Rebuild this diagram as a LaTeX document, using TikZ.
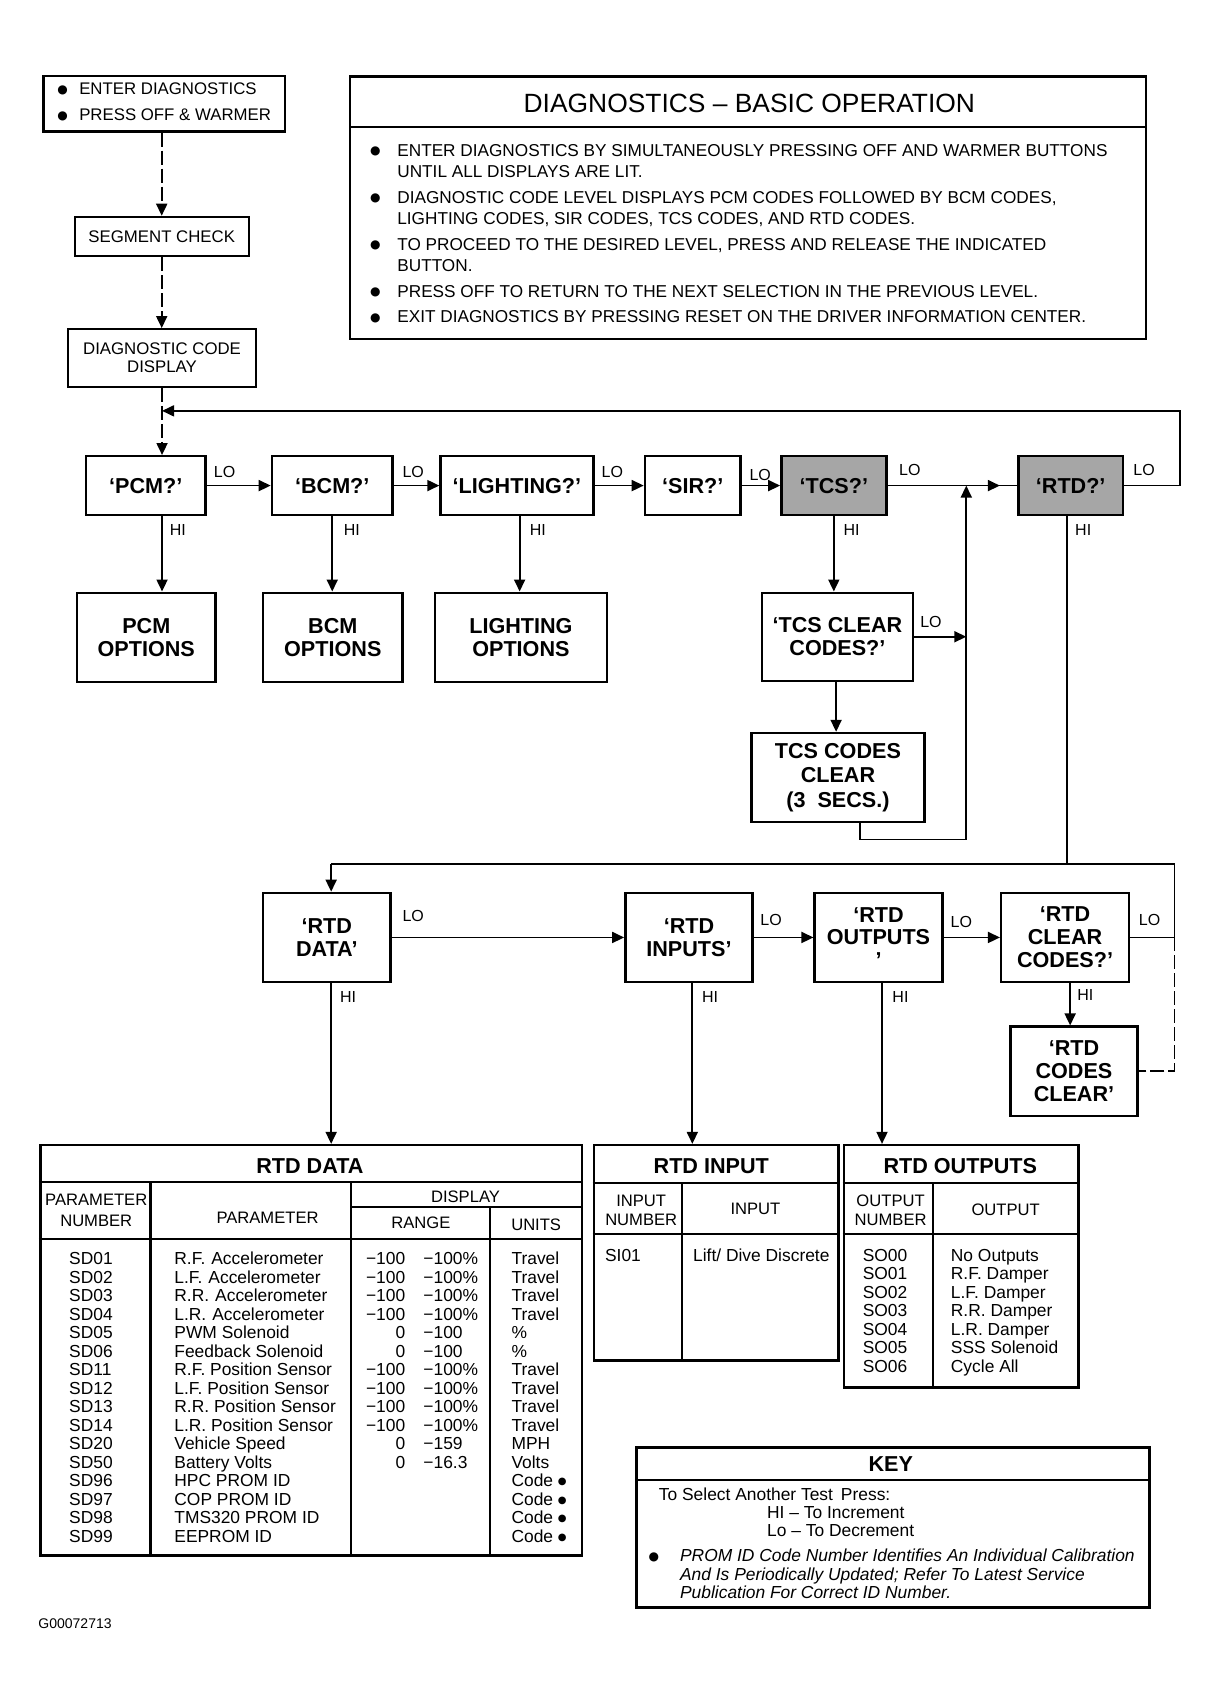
\documentclass[tikz,border=0pt]{standalone}
\usepackage{fontspec}
\setmainfont{Liberation Sans}
\newfontfamily\dejavu{DejaVu Sans}
\newcommand\bul{\raisebox{0.7pt}{\dejavu\fontsize{6}{6}\selectfont ●}}
\newcommand\sbul{\raisebox{0.9pt}{\dejavu\fontsize{5}{5}\selectfont ●}}
\usetikzlibrary{arrows.meta,calc}
\begin{document}
\begin{tikzpicture}[x=0.54375pt,y=-0.54375pt,
  wh/.style 2 args={minimum width=#1*0.54375pt,minimum height=#2*0.54375pt},
  flow/.style={draw,line width=1.2pt,inner sep=0pt,align=center,font=\fontsize{10.8}{11.4}\selectfont\bfseries},
  sbox/.style={draw,line width=1.1pt,inner sep=0pt,align=center,font=\fontsize{8.4}{9.8}\selectfont},
  shaded/.style={fill=black!35},
  con/.style={line width=0.9pt},
  arr/.style={con,-{Triangle[length=6pt,width=5.5pt]}},
  dsh/.style={con,dash pattern=on 7pt off 2pt},
  darr/.style={dsh,-{Triangle[length=6pt,width=5.5pt]}},
  lbl/.style={font=\fontsize{8}{9}\selectfont,inner sep=0pt},
  tab/.style={draw,line width=1.3pt,inner sep=0pt},
  tl/.style={line width=1.1pt},
  ttitle/.style={font=\fontsize{10.8}{11}\selectfont\bfseries,inner sep=0pt},
  thead/.style={font=\fontsize{8.3}{10.4}\selectfont,inner sep=0pt,align=center},
  tdat/.style={font=\fontsize{8.7}{9.24}\selectfont,inner sep=0pt,anchor=base west},
  tdatr/.style={font=\fontsize{8.7}{9.24}\selectfont,inner sep=0pt,anchor=base east},
]
\useasboundingbox (0,0) rectangle (1120,1565);

% ---------- top left chain ----------
\node[sbox,wh={222}{51}] (enter) at (151,95.5) {\begin{tabular}{@{}l@{}}\makebox[10.9pt][l]{\bul}ENTER DIAGNOSTICS\\[3.2pt]\makebox[10.9pt][l]{\bul}PRESS OFF \& WARMER\end{tabular}};
\node[sbox,wh={160}{36}] (seg) at (148.7,217.4) {SEGMENT CHECK};
\node[sbox,wh={173}{53},font=\fontsize{8.4}{8.9}\selectfont] (diag) at (149,329.2) {DIAGNOSTIC CODE\\DISPLAY};

% ---------- basic operation box ----------
\node[draw,line width=1.2pt,wh={731.7}{241.5},inner sep=0pt] (bop) at (687.9,191.2) {};
\draw[line width=1.1pt] (bop.west |- 0,117) -- (bop.east |- 0,117);
\node[inner sep=0pt,font=\fontsize{13.2}{14}\selectfont] (boptitle) at (689,95) {DIAGNOSTICS -- BASIC OPERATION};
\node[inner sep=0pt,anchor=base west,font=\fontsize{8.6}{10.7}\selectfont] (boptext) at (340,143.5) {%
\begin{tabular}[t]{@{}p{13.6pt}@{}l@{}}
\bul & ENTER DIAGNOSTICS BY SIMULTANEOUSLY PRESSING OFF AND WARMER BUTTONS\\
 & UNTIL ALL DISPLAYS ARE LIT.\\[2.1pt]
\bul & DIAGNOSTIC CODE LEVEL DISPLAYS PCM CODES FOLLOWED BY BCM CODES,\\
 & LIGHTING CODES, SIR CODES, TCS CODES, AND RTD CODES.\\[2.1pt]
\bul & TO PROCEED TO THE DESIRED LEVEL, PRESS AND RELEASE THE INDICATED\\
 & BUTTON.\\[2.1pt]
\bul & PRESS OFF TO RETURN TO THE NEXT SELECTION IN THE PREVIOUS LEVEL.\\[2.1pt]
\bul & EXIT DIAGNOSTICS BY PRESSING RESET ON THE DRIVER INFORMATION CENTER.
\end{tabular}};

% ---------- row 1 ----------
\node[flow,wh={110}{54}] (pcm) at (134,446.5) {‘PCM?’};
\node[flow,wh={111}{54}] (bcm) at (305.5,446.5) {‘BCM?’};
\node[flow,wh={140.5}{54}] (light) at (475.3,446.5) {‘LIGHTING?’};
\node[flow,wh={88}{54}] (sir) at (637,446.5) {‘SIR?’};
\node[flow,shaded,wh={96.5}{54}] (tcs) at (766.7,446.5) {‘TCS?’};
\node[flow,shaded,wh={96}{54}] (rtd) at (984.5,446.5) {‘RTD?’};

% ---------- row 2 ----------
\node[flow,wh={127}{82}] (pcmopt) at (134.5,586) {PCM\\OPTIONS};
\node[flow,wh={128}{82}] (bcmopt) at (306,586) {BCM\\OPTIONS};
\node[flow,wh={158}{82}] (lightopt) at (479,586) {LIGHTING\\OPTIONS};
\node[flow,wh={139}{81}] (tcsclr) at (770,585.5) {‘TCS CLEAR\\CODES?’};
\node[flow,wh={159}{82},font=\fontsize{10.8}{12.2}\selectfont\bfseries] (tcscodes) at (770.5,715) {TCS CODES\\CLEAR\\(3 \ SECS.)};

% ---------- row 3 ----------
\node[flow,wh={117}{82}] (rtddata) at (300.5,862) {‘RTD\\DATA’};
\node[flow,wh={117}{82}] (rtdin) at (633.5,862) {‘RTD\\INPUTS’};
\node[flow,wh={117.5}{82}] (rtdout) at (807.8,862) {‘RTD\\OUTPUTS\\’};
\node[flow,wh={117.5}{82}] (rtdclr) at (979.3,862) {‘RTD\\CLEAR\\CODES?’};
\node[flow,wh={117}{82}] (rtdcc) at (987.5,985) {‘RTD\\CODES\\CLEAR’};

% ---------- connectors: top-left ----------
\draw[darr] (enter.south -| seg.north) -- (seg.north);
\draw[darr] (seg.south) -- (seg.south |- diag.north);
\draw[darr] (diag.south) -- (diag.south |- pcm.north);
\coordinate (retR) at (1084.7,377.8);
\draw[arr] (rtd.east) -| (retR) -- (diag.south |- retR);

% row 1 LO arrows
\draw[arr] (pcm.east) -- (bcm.west);
\draw[arr] (bcm.east) -- (light.west);
\draw[arr] (light.east) -- (sir.west);
\draw[arr] (sir.east) -- (tcs.west);
\draw[con] (tcs.east) -- (rtd.west);
\draw[arr] (tcs.east) -- ($(rtd.west)+(-16,0)$);

% row 1 HI arrows
\draw[arr] (diag.south |- pcm.south) -- (diag.south |- pcmopt.north);
\draw[arr] (bcm.south) -- (bcm.south |- bcmopt.north);
\draw[arr] ($(light.south)+(2.5,0)$) -- ($(light.south |- lightopt.north)+(2.5,0)$);
\draw[arr] (tcs.south) -- (tcs.south |- tcsclr.north);
\draw[arr] ($(tcsclr.south)+(-1.2,0)$) -- ($(tcsclr.south |- tcscodes.north)+(-1.2,0)$);

% TCS return path
\coordinate (vr) at (888.5,772);
\draw[arr] ($(tcscodes.south)+(20.5,0)$) |- (vr) -- (vr |- tcs.east);
\draw[arr] (tcsclr.east) -- (tcsclr.east -| vr);

% RTD? HI path
\coordinate (hl) at (304.5,794.5);
\coordinate (hr) at (1080,794.5);
\draw[con] ($(rtd.south)+(-3.5,0)$) -- ($(rtd.south |- hr)+(-3.5,0)$);
\draw[con] (hr) -- (hl);
\draw[arr] (hl) -- (hl |- rtddata.north);
\draw[con] (hr) -- (hr |- rtdclr.east);
\draw[con] (rtdclr.east) -- (rtdclr.east -| hr);
\draw[dsh] (rtdclr.east -| hr) -- (hr |- rtdcc.east) -- (rtdcc.east);

% row 3 LO arrows
\draw[arr] (rtddata.east) -- (rtdin.west);
\draw[arr] (rtdin.east) -- (rtdout.west);
\draw[arr] (rtdout.east) -- (rtdclr.west);
\draw[arr] ($(rtdclr.south)+(4.7,0)$) -- ($(rtdclr.south |- rtdcc.north)+(4.7,0)$);

% ---------- labels ----------
\node[lbl] (lo1) at (206.5,434) {LO};
\node[lbl] (lo2) at (380,434) {LO};
\node[lbl] (lo3) at (563,434) {LO};
\node[lbl] (lo4) at (699,437) {LO};
\node[lbl] (lo5) at (836.6,432) {LO};
\node[lbl] (lo6) at (1052,432) {LO};
\node[lbl] (lo7) at (856,572) {LO};
\node[lbl] (lo8) at (380,842) {LO};
\node[lbl] (lo9) at (709,846) {LO};
\node[lbl] (lo10) at (884,848) {LO};
\node[lbl] (lo11) at (1057,846) {LO};
\node[lbl] (hi1) at (163.6,487.6) {HI};
\node[lbl] (hi2) at (323.6,487.6) {HI};
\node[lbl] (hi3) at (494.5,487.6) {HI};
\node[lbl] (hi4) at (783,487.6) {HI};
\node[lbl] (hi5) at (996,487.6) {HI};
\node[lbl] (hi6) at (320,917) {HI};
\node[lbl] (hi7) at (652.9,917) {HI};
\node[lbl] (hi8) at (828,917) {HI};
\node[lbl] (hi9) at (998,915) {HI};

% ---------- RTD DATA table ----------
\node[tab,wh={498}{377.5}] (tdata) at (286,1241.75) {};
\draw[arr] (hl |- rtddata.south) -- (hl |- tdata.north);
\draw[tl] (tdata.west |- 0,1087) -- (tdata.east |- 0,1087);
\draw[tl] (tdata.west |- 0,1139) -- (tdata.east |- 0,1139);
\draw[tl] (138.4,1087) -- (138.4,0 |- tdata.south);
\draw[tl] (323,1087) -- (323,0 |- tdata.south);
\draw[tl] (450.6,1109.5) -- (450.6,0 |- tdata.south);
\draw[tl] (323,1109.5) -- (tdata.east |- 0,1109.5);
\node[ttitle] (tdatat) at (285,1072) {RTD DATA};
\node[thead] (h1) at (88.5,1113) {PARAMETER\\NUMBER};
\node[thead] (h2) at (246,1120) {PARAMETER};
\node[thead] (h3) at (428,1100) {DISPLAY};
\node[thead] (h4) at (387,1124.5) {RANGE};
\node[thead] (h5) at (493,1126) {UNITS};
\node[tdat] (c1) at (63.3,1163) {\begin{tabular}[t]{@{}l@{}}SD01\\SD02\\SD03\\SD04\\SD05\\SD06\\SD11\\SD12\\SD13\\SD14\\SD20\\SD50\\SD96\\SD97\\SD98\\SD99\end{tabular}};
\node[tdat] (c2) at (160,1163) {\begin{tabular}[t]{@{}l@{}}R.F.\hspace{3pt}Accelerometer\\L.F.\hspace{3pt}Accelerometer\\R.R.\hspace{3pt}Accelerometer\\L.R.\hspace{3pt}Accelerometer\\PWM Solenoid\\Feedback Solenoid\\R.F. Position Sensor\\L.F. Position Sensor\\R.R. Position Sensor\\L.R. Position Sensor\\Vehicle Speed\\Battery Volts\\HPC PROM ID\\COP PROM ID\\TMS320 PROM ID\\EEPROM ID\end{tabular}};
\node[tdatr] (c3) at (373,1163) {\begin{tabular}[t]{@{}r@{}}−100\\−100\\−100\\−100\\0\\0\\−100\\−100\\−100\\−100\\0\\0\end{tabular}};
\node[tdat] (c4) at (389,1163) {\begin{tabular}[t]{@{}l@{}}−100\%\\−100\%\\−100\%\\−100\%\\−100\\−100\\−100\%\\−100\%\\−100\%\\−100\%\\−159\\−16.3\end{tabular}};
\node[tdat] (c5) at (470,1163) {\begin{tabular}[t]{@{}l@{}}Travel\\Travel\\Travel\\Travel\\\%\\\%\\Travel\\Travel\\Travel\\Travel\\MPH\\Volts\\Code \sbul\\Code \sbul\\Code \sbul\\Code \sbul\end{tabular}};

% ---------- RTD INPUT table ----------
\node[tab,wh={225}{198}] (tin) at (658.5,1152) {};
\draw[arr] ($(rtdin.south)+(3.1,0)$) -- ($(rtdin.south |- tin.north)+(3.1,0)$);
\draw[tl] (tin.west |- 0,1088) -- (tin.east |- 0,1088);
\draw[tl] (tin.west |- 0,1135) -- (tin.east |- 0,1135);
\draw[tl] (627,1088) -- (627,0 |- tin.south);
\node[ttitle] (tint) at (654,1072) {RTD INPUT};
\node[thead,font=\fontsize{8.3}{9.2}\selectfont] (ih1) at (589.6,1113) {INPUT\\NUMBER};
\node[thead] (ih2) at (694.6,1112) {INPUT};
\node[tdat] (ic1) at (556,1160) {SI01};
\node[tdat] (ic2) at (637,1160) {Lift/ Dive Discrete};

% ---------- RTD OUTPUTS table ----------
\node[tab,wh={215.6}{222.6}] (tout) at (883.8,1164.3) {};
\draw[arr] ($(rtdout.south)+(3.2,0)$) -- ($(rtdout.south |- tout.north)+(3.2,0)$);
\draw[tl] (tout.west |- 0,1088) -- (tout.east |- 0,1088);
\draw[tl] (tout.west |- 0,1135) -- (tout.east |- 0,1135);
\draw[tl] (858,1088) -- (858,0 |- tout.south);
\node[ttitle] (toutt) at (883,1072) {RTD OUTPUTS};
\node[thead,font=\fontsize{8.3}{9.2}\selectfont] (oh1) at (818.9,1113) {OUTPUT\\NUMBER};
\node[thead] (oh2) at (924.7,1112) {OUTPUT};
\node[tdat] (oc1) at (793,1159.6) {\begin{tabular}[t]{@{}l@{}}SO00\\SO01\\SO02\\SO03\\SO04\\SO05\\SO06\end{tabular}};
\node[tdat] (oc2) at (874,1159.6) {\begin{tabular}[t]{@{}l@{}}No Outputs\\R.F. Damper\\L.F. Damper\\R.R. Damper\\L.R. Damper\\SSS Solenoid\\Cycle All\end{tabular}};

% ---------- KEY ----------
\node[tab,wh={471.7}{147}] (key) at (820.85,1404.5) {};
\draw[tl] (key.west |- 0,1361) -- (key.east |- 0,1361);
\node[ttitle] (keyt) at (819,1346) {KEY};
\node[tdat] (k1) at (605.5,1380) {To Select Another Test\hspace{4pt}Press:};
\node[tdat] (k2) at (705,1396) {HI -- To Increment};
\node[tdat] (k3) at (705,1413.2) {Lo -- To Decrement};
\node[tdat] (kb) at (596,1436) {\bul};
\node[tdat,font=\fontsize{8.7}{9.24}\selectfont\itshape] (k4) at (625,1436) {\begin{tabular}[t]{@{}l@{}}PROM ID Code Number Identifies An Individual Calibration\\And Is Periodically Updated; Refer To Latest Service\\Publication For Correct ID Number.\end{tabular}};

\node[inner sep=0pt,anchor=base west,font=\fontsize{7}{8}\selectfont] (gid) at (35,1497.5) {G00072713};
\end{tikzpicture}
\end{document}
